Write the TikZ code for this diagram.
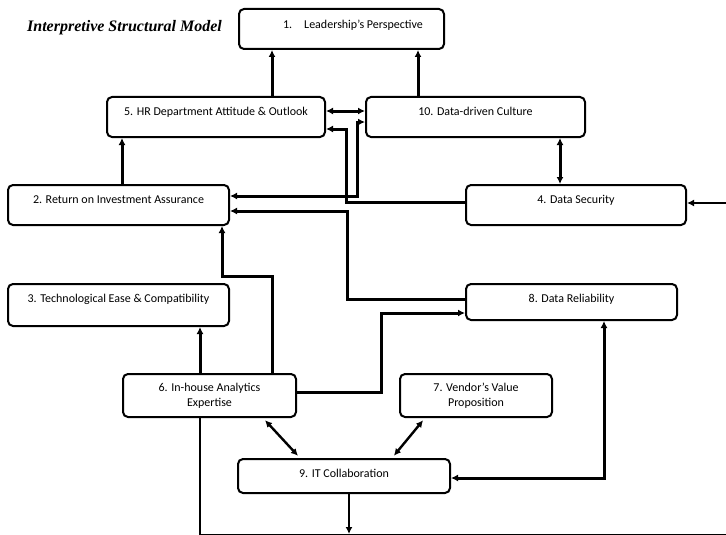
\documentclass[tikz,border=0pt]{standalone}
\usepackage{fontspec}
\usetikzlibrary{arrows.meta}
\newfontfamily\factorfont{Carlito}
\newfontfamily\titlefont{Liberation Serif}

\begin{document}
\begin{tikzpicture}[x=1pt,y=-1pt,
  factor/.style={draw,rounded corners=5pt,line width=2pt,inner sep=0pt,
    font=\factorfont\fontsize{12}{15}\selectfont,align=center},
  textlift/.style={text height=9pt,text depth=#1},
  link/.style={line width=3pt,-{Latex[length=7pt,width=7pt]}},
  bilink/.style={line width=3pt,{Latex[length=7pt,width=7pt]}-{Latex[length=7pt,width=7pt]}}]

  \useasboundingbox (0,0) rectangle (726,535);

  % Draw title
  \node[anchor=base,font=\titlefont\bfseries\itshape\fontsize{16}{19}\selectfont]
        (title) at (124.5,32) {Interpretive Structural Model};

  % Draw factors
  \node[factor,textlift=10pt,minimum width=205pt,minimum height=40pt]
        (lead) at (341.5,29) {\hspace*{23pt}1.\hspace{12pt}Leadership’s Perspective};
  \node[factor,textlift=12pt,minimum width=218pt,minimum height=40pt]
        (hr) at (216,117) {5. HR Department Attitude \& Outlook};
  \node[factor,textlift=12pt,minimum width=219pt,minimum height=40pt]
        (culture) at (475.5,117) {10. Data-driven Culture};
  \node[factor,textlift=12pt,minimum width=221pt,minimum height=40pt]
        (roi) at (118.5,205) {2. Return on Investment Assurance};
  \node[factor,textlift=12pt,minimum width=220pt,minimum height=40pt]
        (security) at (576,205) {4. Data Security};
  \node[factor,textlift=14pt,minimum width=221pt,minimum height=42pt]
        (ease) at (118.5,305) {3. Technological Ease \& Compatibility};
  \node[factor,textlift=8pt,minimum width=211pt,minimum height=36pt]
        (reliab) at (571.5,302) {8. Data Reliability};
  \node[factor,minimum width=173pt,minimum height=43pt]
        (inhouse) at (209.5,395.5) {6. In-house Analytics\\Expertise};
  \node[factor,minimum width=152pt,minimum height=43pt]
        (vendor) at (476,395.5) {7. Vendor’s Value\\Proposition};
  \node[factor,textlift=6pt,minimum width=212pt,minimum height=34pt]
        (itcollab) at (344,476) {9. IT Collaboration};

  \coordinate (bottom) at (349,534);

  % Draw links to the top
  \draw[link] (hr.north -| 272,0) -- (lead.south -| 272,0);
  \draw[link] (culture.north -| 418,0) -- (lead.south -| 418,0);
  \draw[bilink] (hr.east |- 0,111) -- (culture.west |- 0,111);
  \draw[link] (roi.north -| 122,0) -- (hr.south -| 122,0);
  \draw[bilink] (culture.south -| 560,0) -- (security.north -| 560,0);

  % Draw crossing links
  \draw[link] (security.west |- 0,202) -| (346,129) -- (hr.east |- 0,129);
  \draw[bilink] (roi.east |- 0,196) -| (357,122) -- (culture.west |- 0,122);
  \draw[link] (reliab.west |- 0,299) -| (347,211) -- (roi.east |- 0,211);

  % Draw links from in-house expertise
  \draw[link] (inhouse.north -| 272,0) |- (222,276) -- (roi.south -| 222,0);
  \draw[link] (inhouse.north -| 200,0) -- (ease.south -| 200,0);
  \draw[link] (inhouse.east |- 0,392) -| (381,313) -- (reliab.west |- 0,313);
  \draw[link,line width=2pt] (inhouse.south -| 200,0) |- (731,535.4) |- (security.east |- 0,203);

  % Draw links around IT collaboration
  \draw[bilink,line width=2.4pt,shorten <=3pt,shorten >=3pt]
        ([xshift=53.5pt]inhouse.south) -- ([xshift=-44pt]itcollab.north);
  \draw[bilink,line width=2.4pt,shorten <=3pt,shorten >=3pt]
        ([xshift=-51pt]vendor.south) -- ([xshift=48pt]itcollab.north);
  \draw[bilink] (reliab.south -| 604,0) |- (itcollab.east |- 0,478);
  \draw[link,line width=2.4pt] (itcollab.south -| bottom) -- (bottom);
\end{tikzpicture}
\end{document}
